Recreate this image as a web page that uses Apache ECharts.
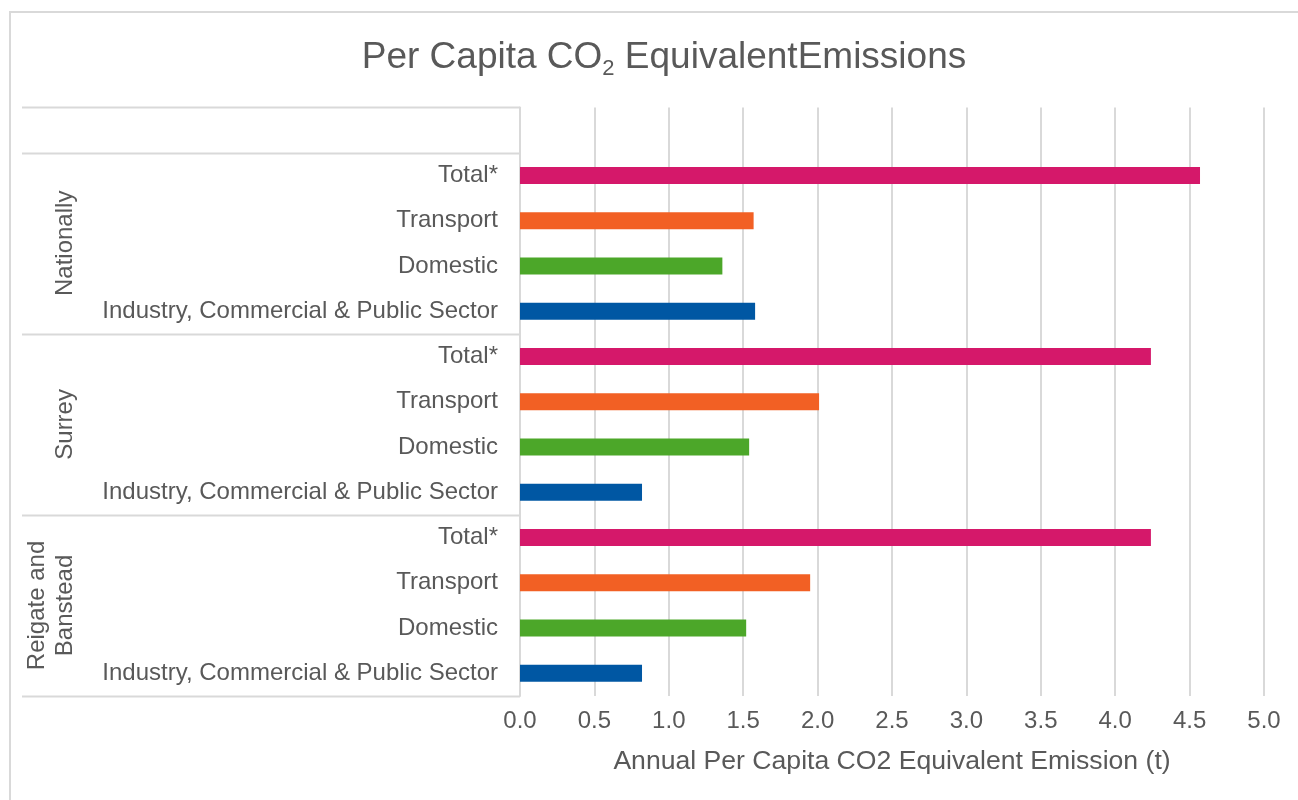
<!DOCTYPE html>
<html>
<head>
<meta charset="utf-8">
<script src="https://cdn.jsdelivr.net/npm/echarts@6/dist/echarts.min.js"></script>
<style>
html,body{margin:0;padding:0;background:#fff;}
#chart{width:1298px;height:800px;}
</style>
</head>
<body>
<div id="chart"></div>
<script>
// ---- data ----
const groups = ['Reigate and\nBanstead', 'Surrey', 'Nationally'];
const sectors = ['Industry, Commercial & Public Sector', 'Domestic', 'Transport', 'Total*'];
const reigateValues = [0.82, 1.52, 1.95, 4.24];
const surreyValues = [0.82, 1.54, 2.01, 4.24];
const nationalValues = [1.58, 1.36, 1.57, 4.57];
const sectorColors = ['#0057A3', '#4CA729', '#F26024', '#D5186A'];
const xMin = 0, xMax = 5, xStep = 0.5;
const titleMain = 'Per Capita CO';
const titleSub = '2';
const titleRest = ' EquivalentEmissions';
const xAxisName = 'Annual Per Capita CO2 Equivalent Emission (t)';

const groupValues = [reigateValues, surreyValues, nationalValues];
const categories = [];
const barData = [];
groups.forEach((g, gi) => {
  sectors.forEach((s, si) => {
    categories.push(g + '|' + s);
    barData.push({ value: groupValues[gi][si], itemStyle: { color: sectorColors[si] } });
  });
});
categories.push('|');
barData.push('-');

const FONT = "'Liberation Sans', Arial, sans-serif";
const TXT = '#595959';
const LINE = '#d9d9d9';

const chart = echarts.init(document.getElementById('chart'));
chart.setOption({
  animation: false,
  backgroundColor: '#fff',
  textStyle: { fontFamily: FONT },
  title: {
    text: '{a|' + titleMain + '}{s|' + titleSub + '}{a|' + titleRest + '}',
    left: 659,
    textAlign: 'center',
    top: 31,
    textStyle: {
      fontWeight: 'normal',
      rich: {
        a: { fontFamily: FONT, fontSize: 37, fontWeight: 'normal', color: TXT, lineHeight: 44 },
        s: { fontFamily: FONT, fontSize: 22, fontWeight: 'normal', color: TXT, lineHeight: 19, verticalAlign: 'bottom' }
      }
    }
  },
  grid: { left: 520, right: 34, top: 107.5, bottom: 104, containLabel: false },
  xAxis: {
    type: 'value',
    min: xMin, max: xMax, interval: xStep,
    axisLine: { show: false },
    axisTick: { show: false },
    splitLine: { show: true, lineStyle: { color: LINE, width: 2 } },
    axisLabel: {
      color: TXT, fontSize: 24, fontFamily: FONT, margin: 13,
      formatter: v => v.toFixed(1)
    },
    name: xAxisName,
    nameLocation: 'middle',
    nameGap: 52,
    nameTextStyle: { color: TXT, fontSize: 26.6, fontFamily: FONT }
  },
  yAxis: {
    type: 'category',
    data: categories,
    axisLine: { show: true, lineStyle: { color: LINE, width: 2 } },
    axisTick: { show: false },
    splitLine: { show: false },
    axisLabel: {
      color: TXT, fontSize: 24, fontFamily: FONT, margin: 22,
      formatter: v => v.split('|')[1]
    }
  },
  series: [{
    type: 'bar',
    data: barData,
    barWidth: 17
  }]
});

// group separators and group labels placed through the category axis scale
const yPix = i => chart.convertToPixel({ yAxisIndex: 0 }, i);
const band = yPix(0) - yPix(1);
const boundary = k => yPix(0) + band / 2 - k * band;
const gridLeft = 520;
const graphics = [];
graphics.push({
  type: 'rect', silent: true,
  shape: { x: 10, y: 12, width: 1400, height: 900 },
  style: { fill: null, stroke: LINE, lineWidth: 2 }
});
const seps = [];
for (let gi = 0; gi <= groups.length; gi++) seps.push(gi * sectors.length);
seps.push(categories.length);
seps.forEach(k => {
  const y = Math.round(boundary(k)) + 0.5;
  graphics.push({
    type: 'line', silent: true,
    shape: { x1: 22, y1: y, x2: gridLeft, y2: y },
    style: { stroke: LINE, lineWidth: 2 }
  });
});
groups.forEach((g, gi) => {
  const yc = (boundary(gi * sectors.length) + boundary((gi + 1) * sectors.length)) / 2;
  const nLines = g.split('\n').length;
  const xc = 65 - (nLines - 1) * 28 / 2;
  graphics.push({
    type: 'text', silent: true,
    x: xc, y: yc, rotation: Math.PI / 2,
    style: {
      text: g, fontSize: 24, fontFamily: FONT, fill: TXT,
      align: 'center', verticalAlign: 'middle', lineHeight: 28
    }
  });
});
chart.setOption({ graphic: graphics });
</script>
</body>
</html>
